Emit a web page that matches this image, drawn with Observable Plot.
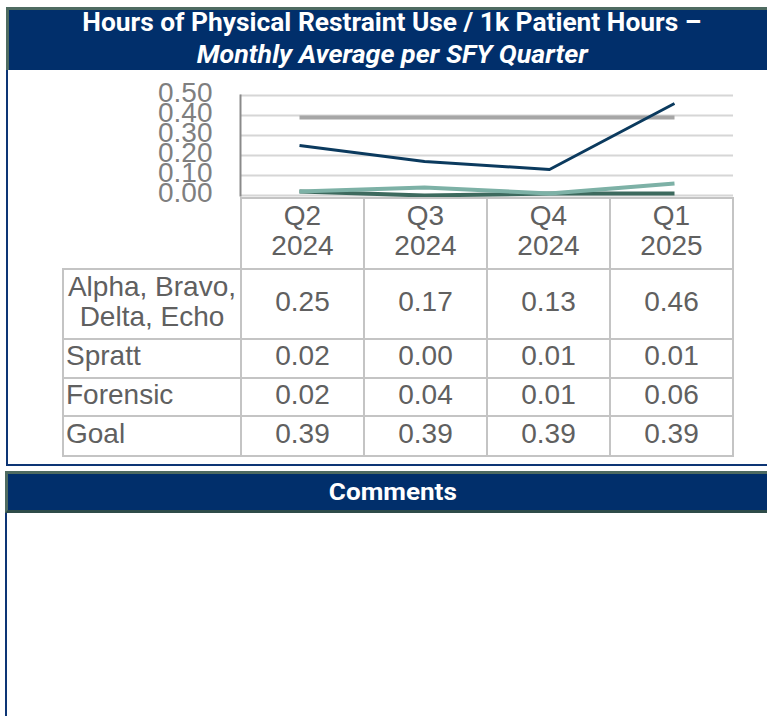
<!DOCTYPE html>
<html>
<head>
<meta charset="utf-8">
<script src="https://cdn.jsdelivr.net/npm/d3@7"></script>
<script src="https://cdn.jsdelivr.net/npm/@observablehq/plot@0.6"></script>
<style>
  html, body { margin: 0; padding: 0; background: #fff; }
  body { width: 767px; height: 716px; overflow: hidden; position: relative; font-family: "Liberation Sans", Arial, sans-serif; }
  .abs { position: absolute; box-sizing: border-box; }
  #titlebar { left: 6px; top: 7px; width: 772px; height: 64px; background: #012f6b; border-top: 3px solid #4e6b61; border-left: 3px solid #4e6b61; }
  #panel { left: 6px; top: 70px; width: 772px; height: 396px; border: 2px solid #0d3575; border-top: none; background: #fff; }
  #combar { left: 5px; top: 471px; width: 775px; height: 42px; background: #012f6b; border-top: 3px solid #4e6b61; border-left: 3px solid #4e6b61; border-bottom: 3px solid #2e4c49; }
  #companel { left: 5px; top: 513px; width: 775px; height: 220px; border-left: 2px solid #0d3575; }
  .ttl { left: 6px; width: 772px; text-align: center; color: #fff; font-family: Roboto, "Noto Sans", sans-serif; font-weight: 700; white-space: nowrap; }
  .ttl span { display: inline-block; transform-origin: 50% 50%; }
  #chart { left: 0; top: 75px; }
  table { position: absolute; left: 62px; top: 197px; border-collapse: collapse; table-layout: fixed; color: #606060; font-size: 28px; font-family: "Liberation Sans", Arial, sans-serif; }
  td { border: 2px solid #c4c4c4; padding: 0 0 5px 0; text-align: center; vertical-align: middle; line-height: 30px; white-space: nowrap; }
  td.lab { text-align: left; padding-left: 2px; }
  td.lab2 { text-align: center; }
  td.blank { border: none; }
</style>
</head>
<body>
<div id="titlebar" class="abs"></div>
<div id="panel" class="abs"></div>
<div id="combar" class="abs"></div>
<div id="companel" class="abs"></div>
<div class="abs ttl" style="top:10px;font-size:25px;line-height:25px;"><span id="t1">Hours of Physical Restraint Use / 1k Patient Hours –</span></div>
<div class="abs ttl" style="top:42px;font-size:25px;line-height:25px;font-style:italic;"><span id="t2">Monthly Average per SFY Quarter</span></div>
<div class="abs ttl" style="top:480px;left:5px;width:775px;font-size:24px;line-height:24px;"><span id="t3">Comments</span></div>
<div id="chart" class="abs"></div>
<script>
// ---- data ----
const quarters = ["Q2 2024", "Q3 2024", "Q4 2024", "Q1 2025"];
const seriesNames = ["Alpha, Bravo, Delta, Echo", "Spratt", "Forensic", "Goal"];
const alphaValues = [0.25, 0.17, 0.13, 0.46];
const sprattValues = [0.02, 0.00, 0.01, 0.01];
const forensicValues = [0.02, 0.04, 0.01, 0.06];
const goalValues = [0.39, 0.39, 0.39, 0.39];
const yTicks = [0, 0.1, 0.2, 0.3, 0.4, 0.5];

const seriesValues = [alphaValues, sprattValues, forensicValues, goalValues];
const seriesColors = ["#0b3a5e", "#3d6a5e", "#7db1a6", "#a6a6a6"];
const seriesWidths = [3, 4, 4, 4];

const rows = (vals) => quarters.map((q, i) => ({quarter: q, value: vals[i]}));

const drawOrder = [1, 2, 3, 0];
const chart = Plot.plot({
  width: 767,
  height: 125,
  marginTop: 20,
  marginBottom: 5,
  marginLeft: 240,
  marginRight: 34,
  style: {fontFamily: "'Liberation Sans', Arial, sans-serif", background: "transparent", overflow: "visible"},
  x: {type: "point", domain: quarters, padding: 0.47, axis: null},
  y: {domain: [0, 0.5], axis: null},
  marks: [
    Plot.gridY(yTicks, {stroke: "#d6d6d6", strokeOpacity: 1, strokeWidth: 2}),
    Plot.axisY(yTicks, {label: null, tickSize: 0, tickPadding: 28, tickFormat: d3.format(".2f"), fontSize: 28, fill: "#7f7f7f", dy: -2}),
    Plot.frame({anchor: "left", stroke: "#8a8a8a", strokeWidth: 2}),
    ...drawOrder.map(i => Plot.line(rows(seriesValues[i]), {x: "quarter", y: "value", stroke: seriesColors[i], strokeWidth: seriesWidths[i], strokeLinecap: "butt"}))
  ]
});
document.getElementById("chart").appendChild(chart);

// ---- data table ----
const table = document.createElement("table");
const colgroup = document.createElement("colgroup");
[178, 123, 123, 123, 123].forEach(w => { const c = document.createElement("col"); c.style.width = w + "px"; colgroup.appendChild(c); });
table.appendChild(colgroup);
const rowHeights = [71, 70, 39, 38, 40];
const hdr = document.createElement("tr");
hdr.style.height = rowHeights[0] + "px";
const blank = document.createElement("td"); blank.className = "blank"; hdr.appendChild(blank);
quarters.forEach(q => { const td = document.createElement("td"); const [a, b] = q.split(" "); td.innerHTML = a + "<br>" + b; hdr.appendChild(td); });
table.appendChild(hdr);
seriesNames.forEach((name, si) => {
  const tr = document.createElement("tr");
  tr.style.height = rowHeights[si + 1] + "px";
  const lab = document.createElement("td");
  if (si === 0) { lab.className = "lab2"; lab.innerHTML = "Alpha, Bravo,<br>Delta, Echo"; }
  else { lab.className = "lab"; lab.textContent = name; }
  tr.appendChild(lab);
  seriesValues[si].forEach(v => { const td = document.createElement("td"); td.textContent = d3.format(".2f")(v); tr.appendChild(td); });
  table.appendChild(tr);
});
document.body.appendChild(table);

// ---- fit condensed title widths ----
function fit(id, target) {
  const el = document.getElementById(id);
  const w = el.getBoundingClientRect().width;
  if (w > 0) el.style.transform = "scaleX(" + (target / w) + ")";
}
fit("t1", 619);
fit("t2", 391);
fit("t3", 128);
</script>
</body>
</html>
